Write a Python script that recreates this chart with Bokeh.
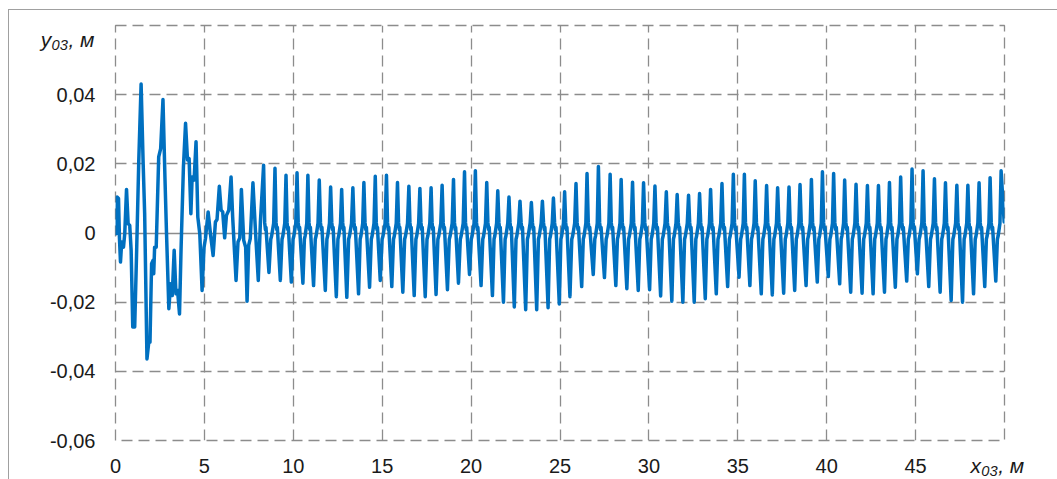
from bokeh.plotting import figure
from bokeh.models import (FixedTicker, CustomJSTickFormatter, LinearAxis, Grid,
                          InlineStyleSheet)
from bokeh.embed import file_html
from bokeh.resources import INLINE

# --- transient part of the trajectory (x, m ; y, m) ---
start_x = [0.00, 0.04, 0.09, 0.17, 0.22, 0.28, 0.35, 0.45, 0.52, 0.62, 0.71,
           0.80, 0.88, 0.97, 1.08, 1.19, 1.31, 1.44, 1.55, 1.64, 1.77, 1.87,
           1.94, 2.03, 2.11, 2.15, 2.20, 2.29, 2.43, 2.54, 2.67, 2.78, 2.87,
           3.00, 3.10, 3.19, 3.30, 3.40, 3.49, 3.60, 3.69, 3.82, 3.94, 4.05,
           4.14, 4.24, 4.31, 4.42, 4.53, 4.63, 4.74, 4.87, 4.98, 5.06, 5.21,
           5.34, 5.49, 5.62, 5.71, 5.84, 5.94, 6.03, 6.14, 6.24, 6.37, 6.50,
           6.59, 6.78, 6.89, 6.99, 7.08, 7.21, 7.32, 7.40, 7.49, 7.58, 7.73,
           7.87, 8.03, 8.15]
start_y = [0.0060, -0.0002, 0.0104, 0.0100, -0.0012, -0.0084, -0.0026,
           -0.0041, -0.0002, 0.0126, 0.0027, 0.0022, -0.0050, -0.0272,
           -0.0272, -0.0050, 0.0211, 0.0431, 0.0211, 0.0056, -0.0364,
           -0.0316, -0.0316, -0.0089, -0.0079, -0.0118, -0.0041, -0.0041,
           0.0220, 0.0244, 0.0386, 0.0162, -0.0002, -0.0219, -0.0147,
           -0.0181, -0.0050, -0.0176, -0.0166, -0.0234, -0.0041, 0.0191,
           0.0317, 0.0211, 0.0215, 0.0056, 0.0162, 0.0153, 0.0264, 0.0046,
           -0.0002, -0.0166, -0.0041, -0.0016, 0.0061, -0.0002, -0.0065,
           0.0032, 0.0039, 0.0135, 0.0066, 0.0061, -0.0014, 0.0051, 0.0066,
           0.0162, 0.0046, -0.0137, -0.0026, -0.0014, 0.0126, -0.0021,
           -0.0041, -0.0197, -0.0036, -0.0016, 0.0145, 0.0008, -0.0137,
           0.0032]

# --- steady oscillation: crest and trough of every cycle ---
crest_x = [8.33, 8.97, 9.59, 10.21, 10.82, 11.46, 12.10, 12.72, 13.35, 13.97,
           14.61, 15.24, 15.86, 16.50, 17.12, 17.75, 18.37, 19.01, 19.63,
           20.24, 20.88, 21.50, 22.13, 22.75, 23.39, 24.01, 24.63, 25.26,
           25.90, 26.52, 27.16, 27.82, 28.44, 29.08, 29.70, 30.34, 30.98,
           31.59, 32.23, 32.85, 33.47, 34.11, 34.75, 35.37, 35.98, 36.62,
           37.24, 37.88, 38.50, 39.14, 39.76, 40.39, 41.01, 41.65, 42.29,
           42.91, 43.53, 44.16, 44.80, 45.42, 46.06, 46.68, 47.32, 47.94,
           48.57, 49.19, 49.81]
crest_y = [0.0196, 0.0187, 0.0167, 0.0174, 0.0167, 0.0153, 0.0133, 0.0126,
           0.0131, 0.0146, 0.0164, 0.0167, 0.0146, 0.0135, 0.0129, 0.0131,
           0.0138, 0.0155, 0.0177, 0.0180, 0.0146, 0.0122, 0.0104, 0.0092,
           0.0088, 0.0092, 0.0101, 0.0119, 0.0143, 0.0172, 0.0192, 0.0170,
           0.0155, 0.0147, 0.0145, 0.0136, 0.0119, 0.0111, 0.0109, 0.0114,
           0.0126, 0.0143, 0.0170, 0.0170, 0.0151, 0.0137, 0.0131, 0.0133,
           0.0140, 0.0155, 0.0177, 0.0172, 0.0153, 0.0141, 0.0137, 0.0137,
           0.0146, 0.0162, 0.0185, 0.0180, 0.0157, 0.0145, 0.0138, 0.0138,
           0.0145, 0.0160, 0.0180]
trough_x = [8.63, 9.27, 9.89, 10.54, 11.14, 11.80, 12.42, 13.01, 13.67,
            14.29, 14.89, 15.54, 16.16, 16.80, 17.42, 18.03, 18.67, 19.29,
            19.91, 20.56, 21.20, 21.82, 22.43, 23.07, 23.69, 24.33, 24.96,
            25.56, 26.22, 26.87, 27.50, 28.14, 28.76, 29.40, 30.04, 30.66,
            31.29, 31.91, 32.55, 33.17, 33.79, 34.43, 35.07, 35.68, 36.32,
            36.94, 37.58, 38.20, 38.84, 39.47, 40.09, 40.73, 41.35, 41.99,
            42.61, 43.25, 43.86, 44.50, 45.10, 45.74, 46.38, 47.00, 47.64,
            48.26, 48.89, 49.51]
trough_y = [-0.0114, -0.0137, -0.0142, -0.0145, -0.0152, -0.0166, -0.0184,
            -0.0186, -0.0176, -0.0157, -0.0137, -0.0155, -0.0171, -0.0181,
            -0.0184, -0.0178, -0.0164, -0.0145, -0.0120, -0.0152, -0.0181,
            -0.0200, -0.0214, -0.0222, -0.0222, -0.0216, -0.0205, -0.0184,
            -0.0155, -0.0120, -0.0129, -0.0152, -0.0161, -0.0166, -0.0164,
            -0.0182, -0.0197, -0.0200, -0.0200, -0.0190, -0.0176, -0.0155,
            -0.0128, -0.0152, -0.0176, -0.0179, -0.0174, -0.0166, -0.0152,
            -0.0142, -0.0126, -0.0147, -0.0171, -0.0174, -0.0176, -0.0171,
            -0.0157, -0.0139, -0.0118, -0.0155, -0.0171, -0.0195, -0.0200,
            -0.0176, -0.0155, -0.0139]
end_x = [49.98, 50.00]
end_y = [0.0032, 0.0035]

# small knees on the falling and rising strokes (fraction of half-cycle, level)
fall_knees = [(0.20, 0.0030), (0.34, 0.0010), (0.44, 0.0016)]
rise_knees = [(0.30, -0.0018), (0.45, -0.0008), (0.78, 0.0028)]

# axis titles and where they sit on their axes
x_title, x_title_at = "x₀₃, м", 49.6
y_title, y_title_at = "y₀₃, м", 0.0560

xs = list(start_x)
ys = list(start_y)
for i, (cx, cy) in enumerate(zip(crest_x, crest_y)):
    xs.append(cx)
    ys.append(cy)
    if i < len(trough_x):
        tx, ty = trough_x[i], trough_y[i]
        for f, lv in fall_knees:
            xs.append(cx + f * (tx - cx))
            ys.append(lv)
        xs.append(tx)
        ys.append(ty)
        nx = crest_x[i + 1]
        for f, lv in rise_knees:
            xs.append(tx + f * (nx - tx))
            ys.append(lv)
xs += end_x
ys += end_y

GRID = "#8c8c8c"
FONT = "Liberation Sans"
INK = "#1a1a1a"

p = figure(width=1057, height=479, x_range=(0, 50), y_range=(-0.06, 0.06),
           output_backend="svg", toolbar_location=None,
           min_border_left=115, min_border_right=53,
           min_border_top=25, min_border_bottom=39,
           background_fill_color="white", border_fill_color="white")

p.outline_line_color = GRID
p.outline_line_dash = "11 6"
p.outline_line_width = 1.3


def plain_axis(ax, size="20px"):
    ax.axis_line_color = None
    ax.major_tick_line_color = None
    ax.minor_tick_line_color = None
    ax.major_label_text_font = FONT
    ax.major_label_text_font_size = size
    ax.major_label_text_color = INK


plain_axis(p.xaxis[0])
plain_axis(p.yaxis[0])

p.xaxis[0].ticker = FixedTicker(ticks=[0, 5, 10, 15, 20, 25, 30, 35, 40, 45])
p.xaxis[0].formatter = CustomJSTickFormatter(code="return tick.toFixed(0);")
p.xaxis[0].major_label_standoff = 12

p.yaxis[0].ticker = FixedTicker(ticks=[-0.06, -0.04, -0.02, 0, 0.02, 0.04])
p.yaxis[0].formatter = CustomJSTickFormatter(code="""
if (Math.abs(tick) < 1e-9) return '0';
return tick.toFixed(2).replace('.', ',');
""")
p.yaxis[0].major_label_standoff = 14

# italic titles carried by their own axes, pulled into the tick-label band
xt = LinearAxis(ticker=FixedTicker(ticks=[x_title_at]),
                formatter=CustomJSTickFormatter(
                    code="return %r;" % x_title))
plain_axis(xt, "21px")
xt.major_label_text_font_style = "italic"
xt.major_label_standoff = -28
p.add_layout(xt, "below")

yt = LinearAxis(ticker=FixedTicker(ticks=[y_title_at]),
                formatter=CustomJSTickFormatter(
                    code="return %r;" % y_title))
plain_axis(yt, "21px")
yt.major_label_text_font_style = "italic"
yt.major_label_standoff = -54
p.add_layout(yt, "left")

p.xgrid.grid_line_color = GRID
p.ygrid.grid_line_color = GRID
p.xgrid.grid_line_dash = "11 6"
p.ygrid.grid_line_dash = "11 6"
p.xgrid.grid_line_width = 1.3
p.ygrid.grid_line_width = 1.3
p.xgrid.ticker = FixedTicker(ticks=[5, 10, 15, 20, 25, 30, 35, 40, 45])
p.ygrid.ticker = FixedTicker(ticks=[-0.04, -0.02, 0.02, 0.04])

# solid horizontal axis line through zero
p.add_layout(Grid(dimension=1, ticker=FixedTicker(ticks=[0]),
                  grid_line_color=GRID, grid_line_width=1.5))

p.line(xs, ys, line_color="#0070C0", line_width=3.5, line_join="round")

# outer frame line of the chart area
p.stylesheets = [InlineStyleSheet(css="""
:host::after {
  content: "";
  position: absolute;
  left: 8px; top: 9px;
  width: 1049px; height: 470px;
  border-left: 1.5px solid #a0a0a0;
  border-top: 1.5px solid #a0a0a0;
  pointer-events: none;
  box-sizing: border-box;
}
""")]

open("out.html", "w").write(file_html(p, INLINE))
